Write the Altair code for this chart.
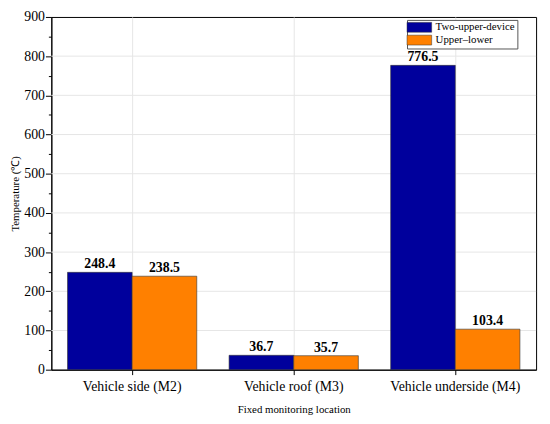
import altair as alt
import pandas as pd

locations = ["Vehicle side (M2)", "Vehicle roof (M3)", "Vehicle underside (M4)"]
series = ["Two-upper-device", "Upper–lower"]
two_upper = [248.4, 36.7, 776.5]
upper_lower = [238.5, 35.7, 103.4]
y_ticks = list(range(0, 901, 50))
grid_values = [100, 200, 300, 400, 500, 600, 700, 800]

rows = []
for i, loc in enumerate(locations):
    rows.append({"loc": loc, "series": series[0], "value": two_upper[i]})
    rows.append({"loc": loc, "series": series[1], "value": upper_lower[i]})
df = pd.DataFrame(rows)

FONT = "Liberation Serif"

x = alt.X("loc:N", sort=locations, title="Fixed monitoring location",
          scale=alt.Scale(paddingInner=0.2, paddingOuter=0.1),
          axis=alt.Axis(labelAngle=0, labelFontSize=14, titleFontSize=11, labelFont=FONT,
                        titleFont=FONT, titleFontWeight="normal", labelColor="#000", titleColor="#000",
                        domainColor="#000", tickColor="#000", tickSize=5,
                        labelPadding=5, titlePadding=10, grid=True, gridColor="#e6e6e6"))
y = alt.Y("value:Q", title="Temperature (℃)",
          scale=alt.Scale(domain=[0, 900], nice=False),
          axis=alt.Axis(values=y_ticks, labelOverlap=False,
                        labelExpr="datum.value % 100 === 0 ? datum.label : ''",
                        tickSize={"condition": {"test": "datum.value % 100 === 0", "value": 6}, "value": 3},
                        labelFontSize=14, titleFontSize=11, labelFont=FONT, titleFont=FONT,
                        titleFontWeight="normal",
                        labelColor="#000", titleColor="#000", domainColor="#000", tickColor="#000",
                        grid=False, labelPadding=1, titlePadding=3))
color = alt.Color("series:N", sort=series,
                  scale=alt.Scale(domain=series, range=["#00009c", "#ff8000"]),
                  legend=alt.Legend(title=None, orient="none", legendX=361, legendY=3,
                                    symbolType="M-1.5,-1H3.5V1H-1.5Z", symbolSize=100,
                                    symbolStrokeColor="#333", symbolStrokeWidth=0.5,
                                    labelFont=FONT, labelFontSize=11, labelColor="#000",
                                    strokeColor="#555", padding=2, rowPadding=0,
                                    labelOffset=16, fillColor="white", symbolOpacity=1))

grid = alt.Chart(pd.DataFrame({"value": grid_values})).mark_rule(
    color="#e6e6e6", strokeWidth=1).encode(y=y)

base = alt.Chart(df).encode(x=x, y=y, xOffset=alt.XOffset("series:N", sort=series))

bars = base.mark_bar(stroke="#333", strokeWidth=0.6, opacity=1).encode(color=color)
labels = base.mark_text(dy=-8, fontSize=14, fontWeight="bold", font=FONT, color="#000").encode(
    text=alt.Text("value:Q", format=".1f"))

chart = alt.layer(grid, bars, labels).properties(
    width=492, height=358,
    autosize=alt.AutoSizeParams(type="none"),
    padding={"left": 44, "top": 6, "right": 6, "bottom": 50},
).configure_view(stroke="#000", strokeWidth=1)

chart.save("out.html", embed_options={"renderer": "svg", "actions": False})
